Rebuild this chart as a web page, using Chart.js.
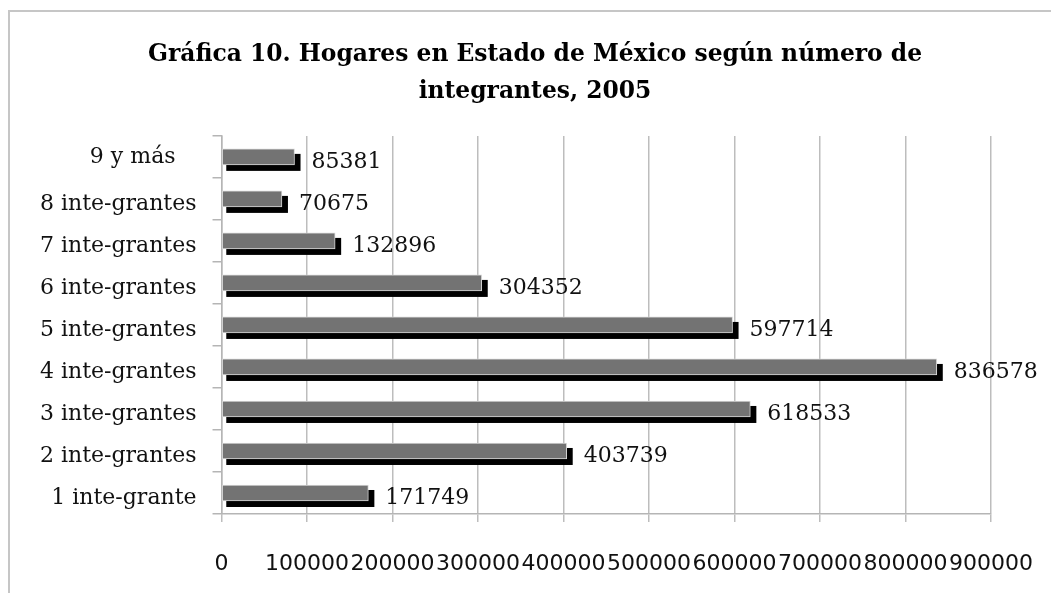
<!DOCTYPE html>
<html>
<head>
<meta charset="utf-8">
<script src="https://cdn.jsdelivr.net/npm/chart.js@4"></script>
<style>
  html, body { margin: 0; padding: 0; background: #fff; }
  #wrap { width: 1051px; height: 593px; position: relative; }
</style>
</head>
<body>
<div id="wrap"><canvas id="c" width="1051" height="593"></canvas></div>
<script>
// ---- data ----
const categories = [
  ['', '1 inte-grante'],
  ['', '2 inte-grantes'],
  ['', '3 inte-grantes'],
  ['', '4 inte-grantes'],
  ['', '5 inte-grantes'],
  ['', '6 inte-grantes'],
  ['', '7 inte-grantes'],
  ['', '8 inte-grantes'],
  '9 y más   '
];
const hogares = [171749, 403739, 618533, 836578, 597714, 304352, 132896, 70675, 85381];
const xTicks = [0, 100000, 200000, 300000, 400000, 500000, 600000, 700000, 800000, 900000];
const titleLines = ['Gráfica 10. Hogares en Estado de México según número de', 'integrantes, 2005'];

// ---- plugins ----
const frame = {
  id: 'frame',
  beforeDraw(chart) {
    const ctx = chart.ctx;
    ctx.save();
    ctx.fillStyle = '#fff';
    ctx.fillRect(0, 0, chart.width, chart.height);
    ctx.strokeStyle = '#c6c6c6';
    ctx.lineWidth = 2;
    ctx.beginPath();
    ctx.moveTo(9, chart.height);
    ctx.lineTo(9, 11);
    ctx.lineTo(chart.width, 11);
    ctx.stroke();
    ctx.restore();
  }
};

const barShadow = {
  id: 'barShadow',
  beforeDatasetsDraw(chart) {
    const ctx = chart.ctx;
    const meta = chart.getDatasetMeta(0);
    ctx.save();
    ctx.fillStyle = '#000';
    meta.data.forEach(bar => {
      const p = bar.getProps(['x', 'y', 'base', 'height'], true);
      const top = p.y - p.height / 2;
      ctx.fillRect(p.base + 4, top + 5, (p.x + 6) - (p.base + 4), p.height + 1);
    });
    ctx.restore();
  }
};

const valueLabels = {
  id: 'valueLabels',
  afterDatasetsDraw(chart) {
    const ctx = chart.ctx;
    const meta = chart.getDatasetMeta(0);
    const data = chart.data.datasets[0].data;
    ctx.save();
    ctx.fillStyle = '#111';
    ctx.font = '22px "DejaVu Serif"';
    ctx.textAlign = 'left';
    ctx.textBaseline = 'alphabetic';
    meta.data.forEach((bar, i) => {
      const p = bar.getProps(['x', 'y'], true);
      ctx.fillText(String(data[i]), p.x + 17, p.y + 11);
    });
    ctx.restore();
  }
};

new Chart(document.getElementById('c'), {
  type: 'bar',
  data: {
    labels: categories,
    datasets: [{
      data: hogares,
      backgroundColor: '#737373',
      borderColor: '#d6d6d6',
      borderWidth: 1,
      borderSkipped: false,
      barThickness: 16
    }]
  },
  options: {
    indexAxis: 'y',
    responsive: false,
    animation: false,
    layout: { padding: { top: 36, left: 24, right: 5, bottom: 16 } },
    plugins: {
      legend: { display: false },
      tooltip: { enabled: false },
      title: {
        display: true,
        text: titleLines,
        color: '#000',
        font: { family: '"DejaVu Serif"', size: 23.4, weight: 'bold', lineHeight: 1.6 },
        padding: { top: 0, bottom: 25 }
      }
    },
    scales: {
      x: {
        min: 0,
        max: 900000,
        afterBuildTicks(scale) { scale.ticks = xTicks.map(v => ({ value: v })); },
        afterFit(scale) { scale.paddingRight = 60; scale.height = 63; },
        ticks: {
          autoSkip: false,
          maxRotation: 0,
          padding: 29,
          color: '#111',
          font: { family: '"DejaVu Sans"', size: 22 },
          callback: v => String(v)
        },
        grid: { color: '#bdbdbd', lineWidth: 1.5, tickLength: 8, drawOnChartArea: true },
        border: { color: '#b5b5b5', width: 1.5 }
      },
      y: {
        reverse: true,
        ticks: {
          autoSkip: false,
          padding: 16,
          color: '#111',
          font: { family: '"DejaVu Serif"', size: 22, lineHeight: 0.45 }
        },
        grid: { color: '#b5b5b5', lineWidth: 1.5, tickLength: 9, drawOnChartArea: false, offset: true },
        border: { color: '#b5b5b5', width: 1.5 }
      }
    }
  },
  plugins: [frame, barShadow, valueLabels]
});
</script>
</body>
</html>
